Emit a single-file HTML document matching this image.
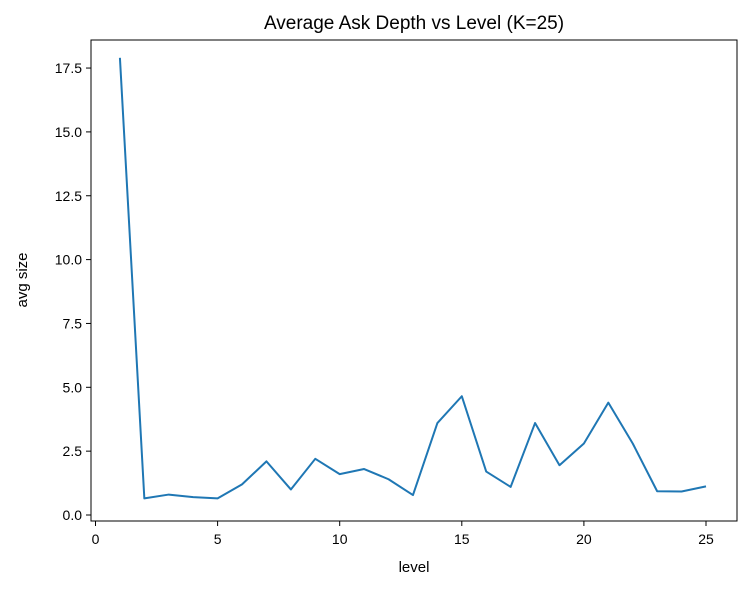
<!DOCTYPE html>
<html><head><meta charset="utf-8"><style>
body{margin:0;background:#fff;width:748px;height:589px;overflow:hidden}
text{font-family:"Liberation Sans","DejaVu Sans",sans-serif;fill:#000}
</style></head><body>
<svg id="chart" width="748" height="589" xmlns="http://www.w3.org/2000/svg">
<text x="414" y="29" font-size="19" text-anchor="middle">Average Ask Depth vs Level (K=25)</text>
<text x="414" y="572" font-size="15" text-anchor="middle">level</text>
<text x="27" y="280" font-size="15" text-anchor="middle" transform="rotate(-90 27 280)">avg size</text>
<g id="ticks"></g>
<path id="series" fill="none" stroke="#1f77b4" stroke-width="2" stroke-linejoin="round"/>
<rect x="91" y="40" width="646" height="481" fill="none" stroke="#000" stroke-width="1"/>
</svg>
<script>
const levels=[1,2,3,4,5,6,7,8,9,10,11,12,13,14,15,16,17,18,19,20,21,22,23,24,25];
const avgSize=[17.9,0.65,0.8,0.7,0.65,1.2,2.1,1.0,2.2,1.6,1.8,1.4,0.78,3.6,4.65,1.7,1.1,3.6,1.95,2.8,4.4,2.8,0.93,0.92,1.12];
const xTicks=[0,5,10,15,20,25];
const yTicks=[0,2.5,5,7.5,10,12.5,15,17.5];
const yTickLabels=["0.0","2.5","5.0","7.5","10.0","12.5","15.0","17.5"];
function xs(v){return 95.5+v*24.42;}
function ys(v){return 515-v*25.54;}
const ns="http://www.w3.org/2000/svg";
const g=document.getElementById('ticks');
xTicks.forEach(t=>{
 const l=document.createElementNS(ns,'line');
 
 
 l.setAttribute('x1',xs(t));l.setAttribute('x2',xs(t));l.setAttribute('y1',521);l.setAttribute('y2',526);l.setAttribute('stroke','#000');
 g.appendChild(l);
 const tx=document.createElementNS(ns,'text');
 
 
 tx.setAttribute('x',xs(t));tx.setAttribute('y',544);tx.setAttribute('font-size','14');tx.setAttribute('text-anchor','middle');
 tx.textContent=t;g.appendChild(tx);
});
yTicks.forEach((t,i)=>{
 const l=document.createElementNS(ns,'line');
 
 
 l.setAttribute('x1',86);l.setAttribute('x2',91);l.setAttribute('y1',ys(t));l.setAttribute('y2',ys(t));l.setAttribute('stroke','#000');
 g.appendChild(l);
 const tx=document.createElementNS(ns,'text');
 
 
 tx.setAttribute('x',82);tx.setAttribute('y',ys(t)+5);tx.setAttribute('font-size','14');tx.setAttribute('text-anchor','end');
 tx.textContent=yTickLabels[i];g.appendChild(tx);
});
document.getElementById('series').setAttribute('d',levels.map((v,i)=>(i?'L':'M')+xs(v)+' '+ys(avgSize[i])).join(' '));
</script>
</body></html>
